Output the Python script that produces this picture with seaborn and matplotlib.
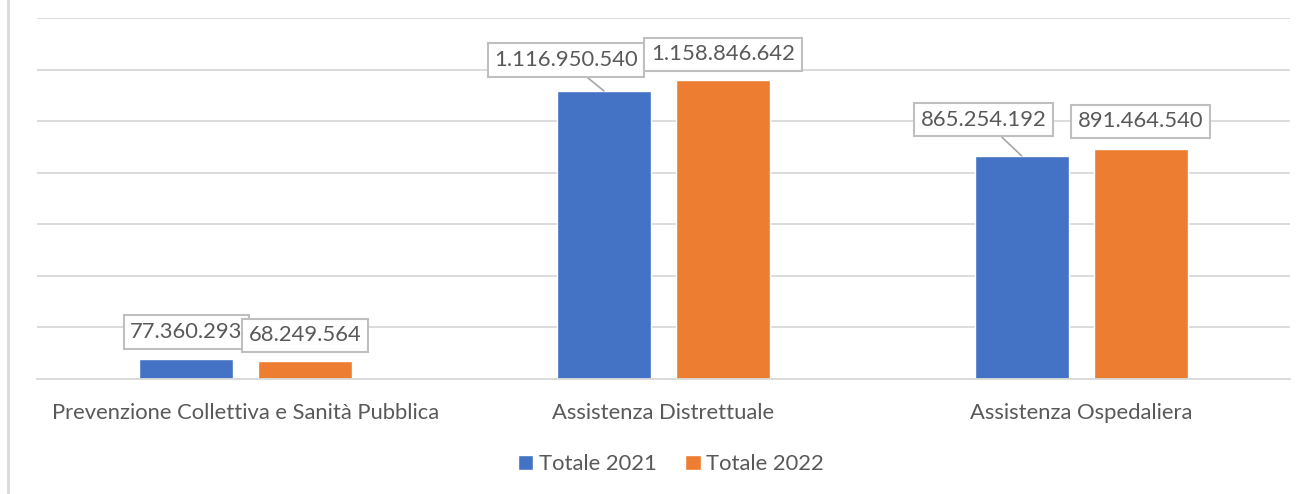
import matplotlib
matplotlib.use("Agg")
import matplotlib.pyplot as plt
from matplotlib.lines import Line2D
import seaborn as sns
import pandas as pd

categories = ["Prevenzione Collettiva e Sanità Pubblica", "Assistenza Distrettuale", "Assistenza Ospedaliera"]
totale_2021 = [77360293, 1116950540, 865254192]
totale_2022 = [68249564, 1158846642, 891464540]
series_names = ["Totale 2021", "Totale 2022"]

# label offsets (pixels) from bar top, per series
label_offsets = {
    "Totale 2021": [(0, 27), (-38, 31), (-38, 36)],
    "Totale 2022": [(0, 26), (0, 26), (0, 28)],
}

BLUE = "#4472C4"
ORANGE = "#ED7D31"
GRID = "#D9D9D9"
TEXT = "#595959"
FONT = "Lato"
FS = 15.8


def fmt(v):
    return f"{v:,}".replace(",", ".")


def main():
    sns.set_theme(style="white")
    plt.rcParams["font.family"] = [FONT, "DejaVu Sans"]

    df = pd.DataFrame({
        "categoria": categories * 2,
        "valore": totale_2021 + totale_2022,
        "serie": [series_names[0]] * 3 + [series_names[1]] * 3,
    })

    fig = plt.figure(figsize=(13.12, 4.94), dpi=100)
    ax = fig.add_axes([37 / 1312, 1 - 379 / 494, (1290 - 37) / 1312, (379 - 18) / 494])

    sns.barplot(data=df, x="categoria", y="valore", hue="serie", order=categories,
                hue_order=series_names, palette=[BLUE, ORANGE], width=0.57, gap=0.21,
                saturation=1, ax=ax, legend=True, errorbar=None)

    ax.set_ylim(0, 1.4e9)
    ax.set_yticks([i * 2e8 for i in range(8)])
    ax.set_yticklabels([])
    ax.tick_params(axis="y", length=0)
    ax.tick_params(axis="x", length=0, labelsize=FS, labelcolor=TEXT, pad=17)
    ax.yaxis.grid(True, color=GRID, linewidth=1.3)
    ax.set_axisbelow(True)
    for s in ["top", "right", "left"]:
        ax.spines[s].set_visible(False)
    ax.spines["bottom"].set_color(GRID)
    ax.spines["bottom"].set_linewidth(1.3)
    ax.set_xlabel("")
    ax.set_ylabel("")
    ax.set_xlim(-0.5, 2.5)

    for container, name in zip(ax.containers, series_names):
        for bar, (dx, dy) in zip(container, label_offsets[name]):
            x = bar.get_x() + bar.get_width() / 2
            y = bar.get_height()
            arrow = dict(arrowstyle="-", color="#A6A6A6", lw=1.2, shrinkA=0, shrinkB=0) if dx != 0 else None
            ax.annotate(fmt(int(y)), xy=(x, y), xytext=(dx, dy), textcoords="offset pixels",
                        ha="center", va="center", fontsize=FS, color=TEXT,
                        bbox=dict(boxstyle="square,pad=0.3", fc="white", ec="#BFBFBF", lw=1.5),
                        arrowprops=arrow, zorder=5)

    handles, labels = ax.get_legend_handles_labels()
    ax.get_legend().remove()
    fig.legend(handles, labels, loc="center", bbox_to_anchor=(671 / 1312, 1 - 464 / 494), ncol=2,
               frameon=False, handlelength=0.7, handleheight=0.7, handletextpad=0.25,
               columnspacing=1.3, prop={"family": FONT, "size": FS}, labelcolor=TEXT)

    fig.add_artist(Line2D([8 / 1312, 8 / 1312], [0, 1], transform=fig.transFigure, color=GRID, lw=2))

    fig.savefig("out.png", dpi=100)


if __name__ == "__main__":
    main()
